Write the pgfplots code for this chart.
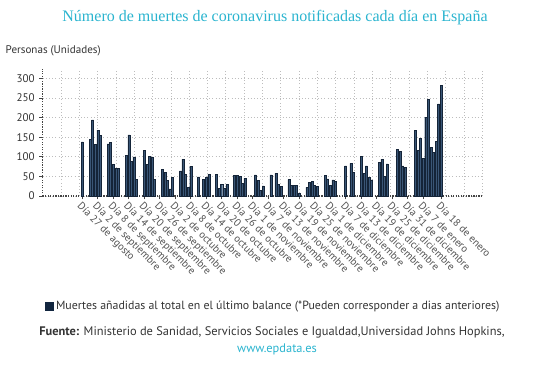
\documentclass[border=0pt]{standalone}
\usepackage{pgfplots}
\pgfplotsset{compat=1.18}
\usepackage{fontspec}
\setmainfont{PT Sans}
\newfontfamily\titlefont{Liberation Serif}
\definecolor{barfill}{HTML}{3A5676}
\definecolor{bardraw}{HTML}{142438}
\definecolor{navy}{HTML}{12263F}
\definecolor{cyanT}{HTML}{2AB4CF}
\definecolor{txt}{HTML}{333333}
\definecolor{gridc}{HTML}{BDBDBD}
\definecolor{axc}{HTML}{444444}
\begin{document}
\begin{tikzpicture}[x=0.75pt,y=0.75pt]
\path[use as bounding box] (0,0) rectangle (550,375);
\node[font=\titlefont\fontsize{12}{14}\selectfont, text=cyanT] at (275,357) {Número de muertes de coronavirus notificadas cada día en España};
\node[anchor=west, font=\fontsize{8.3}{10}\selectfont, text=txt] at (1,324) {Personas (Unidades)};
\begin{axis}[at={(32.025pt,134.25pt)}, anchor=south west, scale only axis,
  width=329.7pt, height=95.55pt,
  xmin=-15.33, xmax=154.9, ymin=0, ymax=325,
  axis lines=left,
  axis line style={-, axc, densely dotted, line width=0.9pt},
  tick align=outside, major tick length=2.5pt,
  tick style={axc, line width=0.5pt},
  ytick={0,50,100,150,200,250,300},
  ymajorgrids=true,
  major grid style={gridc, dotted, line width=0.6pt},
  minor xtick={-8.24,-1.15,5.95,13.04,20.13,27.22,34.32,41.41,48.50,55.60,62.69,69.78,76.88,83.97,91.06,98.16,105.25,112.34,119.44,126.53,133.62,140.72,147.81,154.9},
  xminorgrids=true, minor tick length=0pt,
  minor grid style={gridc, dotted, line width=0.6pt},
  xtick={0,6,12,18,24,30,36,42,48,54,60,66,72,78,84,90,96,102,108,114,120,126,132,139},
  xticklabels={Día 27 de agosto,Día 2 de septiembre,Día 8 de septiembre,Día 14 de septiembre,Día 20 de septiembre,Día 26 de septiembre,Día 2 de octubre,Día 8 de octubre,Día 14 de octubre,Día 20 de octubre,Día 26 de octubre,Día 1 de noviembre,Día 7 de noviembre,Día 13 de noviembre,Día 19 de noviembre,Día 25 de noviembre,Día 1 de diciembre,Día 7 de diciembre,Día 13 de diciembre,Día 19 de diciembre,Día 25 de diciembre,Día 31 de diciembre,Día 7 de enero,Día 18 de enero},
  xticklabel style={rotate=-45, anchor=north west, font=\fontsize{7.9}{9}\selectfont, text=txt!85, inner sep=1pt},
  yticklabel style={font=\fontsize{8.3}{10}\selectfont, text=txt},
  /pgf/number format/assume math mode=true,
  legend style={at={(0.525,-0.865)}, anchor=center, draw=none, fill=none,
    font=\fontsize{8.9}{10}\selectfont, text=txt},
  legend image code/.code={\fill[navy] (0pt,-3pt) rectangle (6pt,3pt);},
]
\addplot[ybar, bar width=0.78, fill=barfill, draw=bardraw, line width=0.35pt] coordinates {
(0,138) (3,145) (4,194) (5,132) (6,168) (7,155)
(10,133) (11,137) (12,81) (13,71) (14,71)
(17,103) (18,156) (19,89) (20,100) (21,43)
(24,117) (25,81) (26,101) (27,100) (28,43)
(31,68) (32,60) (33,39) (34,18) (35,48)
(38,64) (39,94) (40,56) (41,22) (42,76)
(45,49) (47,43) (48,48) (49,56)
(52,55) (53,20) (54,30) (55,20) (56,30)
(59,53) (60,52) (61,51) (62,32) (63,45)
(67,54) (68,40) (69,15) (70,26)
(73,54) (75,58) (76,30) (77,25)
(80,42) (81,28) (82,28) (83,28) (84,6)
(87,22) (88,34) (89,37) (90,28) (91,24)
(94,52) (95,44) (96,28) (97,41) (98,37)
(102,77) (104,83) (105,60)
(108,102) (109,58) (110,77) (111,48) (112,41)
(115,86) (116,94) (117,50) (118,82)
(122,119) (123,114) (124,77) (125,73)
(129,167) (130,116) (131,147) (132,96) (133,201) (134,247) (135,124) (136,111) (137,139) (138,235) (139,283)
};
\addlegendentry{Muertes añadidas al total en el último balance (*Pueden corresponder a dias anteriores)}
\end{axis}
\node[font=\fontsize{9.3}{10}\selectfont, text=txt] at (272,43) {\textbf{Fuente:} Ministerio de Sanidad, Servicios Sociales e Igualdad,Universidad Johns Hopkins,};
\node[font=\fontsize{9.3}{10}\selectfont, text=cyanT] at (277,26) {www.epdata.es};
\end{tikzpicture}
\end{document}
